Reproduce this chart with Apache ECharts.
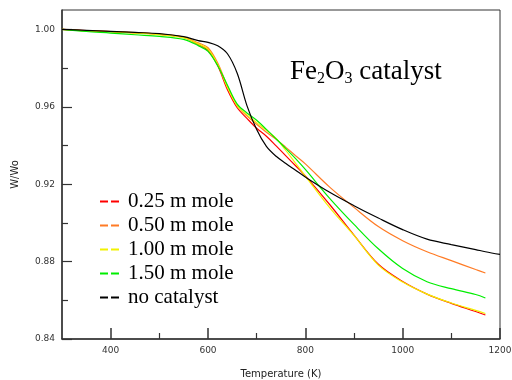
<!DOCTYPE html>
<html>
<head>
<meta charset="utf-8">
<script src="https://cdn.jsdelivr.net/npm/echarts@6/dist/echarts.min.js"></script>
<style>
  html, body { margin: 0; padding: 0; background: #fff; }
  #chart { width: 512px; height: 380px; }
</style>
</head>
<body>
<div id="chart"></div>
<script>
// temperature (K) for the catalyst runs, the blank run goes on to 1200 K
const temperature = [300, 350, 400, 450, 500, 550, 580, 600, 620, 640, 660, 680, 700, 720, 740, 760, 780, 800, 850, 900, 950, 1000, 1050, 1100, 1150, 1170];
const temperatureNoCat = [...temperature, 1200];

const seriesNames = ['0.25 m mole', '0.50 m mole', '1.00 m mole', '1.50 m mole', 'no catalyst'];
const seriesColors = ['#ff0000', '#ff7b25', '#f2f200', '#00ee00', '#000000'];

// W/Wo
const mole025 = [1.0, 0.9993, 0.9988, 0.9982, 0.9974, 0.9958, 0.9922, 0.9892, 0.9812, 0.9688, 0.9595, 0.954, 0.9489, 0.9448, 0.9398, 0.9346, 0.9295, 0.9243, 0.9095, 0.8937, 0.8786, 0.8697, 0.8632, 0.8584, 0.8542, 0.8524];
const mole050 = [1.0, 0.9993, 0.9989, 0.9983, 0.9975, 0.996, 0.993, 0.9905, 0.9826, 0.9706, 0.9606, 0.9553, 0.951, 0.9468, 0.9432, 0.939, 0.9347, 0.9305, 0.9185, 0.908, 0.8981, 0.8908, 0.8851, 0.8805, 0.8759, 0.8741];
const mole100 = [1.0, 0.9992, 0.9987, 0.9981, 0.9973, 0.9957, 0.9925, 0.9898, 0.9818, 0.97, 0.9605, 0.9558, 0.9518, 0.9478, 0.9437, 0.9374, 0.9308, 0.9242, 0.9079, 0.8935, 0.8782, 0.8694, 0.8632, 0.8586, 0.8548, 0.8532];
const mole150 = [1.0, 0.9989, 0.9981, 0.9972, 0.9964, 0.9948, 0.9916, 0.9886, 0.9812, 0.9711, 0.9614, 0.9568, 0.953, 0.9483, 0.9434, 0.9384, 0.9332, 0.9276, 0.9127, 0.8992, 0.8866, 0.8764, 0.8696, 0.866, 0.863, 0.8612];
const noCatalyst = [1.0, 0.9995, 0.999, 0.9984, 0.9978, 0.9962, 0.9942, 0.9933, 0.9915, 0.9874, 0.9773, 0.9606, 0.9482, 0.9395, 0.9344, 0.9307, 0.9272, 0.9237, 0.9158, 0.9089, 0.9025, 0.8965, 0.8916, 0.8888, 0.8862, 0.8851, 0.8837];

// axis ticks
const xTickLabels = [400, 600, 800, 1000, 1200];
const xMinorTicks = [500, 700, 900, 1100];
const yTickLabels = [0.84, 0.88, 0.92, 0.96, 1.0];
const yMinorTicks = [0.86, 0.9, 0.94, 0.98];

const axisColor = '#333';
const labelFont = 'DejaVu Sans';

const toPairs = (xs, ys) => ys.map((v, i) => [xs[i], v]);
const allValues = [mole025, mole050, mole100, mole150, noCatalyst];

const series = allValues.map((vals, i) => ({
  name: seriesNames[i],
  type: 'line',
  data: toPairs(i === 4 ? temperatureNoCat : temperature, vals),
  smooth: 0.35,
  showSymbol: false,
  symbol: 'none',
  color: seriesColors[i],
  lineStyle: { width: 1.2, color: seriesColors[i] },
  z: i === 4 ? 3 : 2,
}));

const chart = echarts.init(document.getElementById('chart'), null, { renderer: 'canvas' });

chart.setOption({
  animation: false,
  backgroundColor: '#fff',
  title: {
    left: 290,
    top: 57,
    padding: 0,
    text: '{a|Fe}{s|2}{a|O}{s|3}{a| catalyst}',
    textStyle: {
      fontWeight: 'normal',
      rich: {
        a: { fontFamily: 'Liberation Serif', fontWeight: 'normal', fontSize: 27, color: '#000', lineHeight: 30 },
        s: { fontFamily: 'Liberation Serif', fontWeight: 'normal', fontSize: 16, color: '#000', lineHeight: 16, verticalAlign: 'bottom' },
      },
    },
  },
  legend: {
    orient: 'vertical',
    left: 100,
    top: 191,
    padding: 0,
    itemGap: 3,
    itemWidth: 19,
    itemHeight: 2,
    icon: 'path://M0,0H8V2H0Z M11,0H19V2H11Z',
    data: seriesNames,
    selectedMode: false,
    textStyle: {
      fontFamily: 'Liberation Serif',
      fontSize: 21,
      lineHeight: 20,
      color: '#000',
      padding: [0, 0, 0, 4],
    },
  },
  grid: {
    left: 62,
    right: 12,
    top: 10,
    bottom: 41,
    show: true,
    borderColor: axisColor,
    borderWidth: 1,
    outerBoundsMode: 'none',
    containLabel: false,
  },
  xAxis: [
    {
      type: 'value',
      position: 'bottom',
      min: 300,
      max: 1200,
      name: 'Temperature (K)',
      nameLocation: 'middle',
      nameGap: 30,
      nameTextStyle: { fontFamily: labelFont, fontSize: 10, color: '#222' },
      axisLine: { show: true, lineStyle: { color: axisColor, width: 1.5 } },
      axisTick: { show: true, inside: true, length: 11, customValues: xTickLabels, lineStyle: { color: axisColor, width: 1.5 } },
      axisLabel: {
        customValues: xTickLabels,
        margin: 7,
        fontFamily: labelFont,
        fontSize: 9,
        color: '#333',
        formatter: (v) => String(v),
      },
      splitLine: { show: false },
    },
    {
      type: 'value',
      position: 'bottom',
      min: 300,
      max: 1200,
      axisLine: { show: false },
      axisTick: { show: true, inside: true, length: 6, customValues: xMinorTicks, lineStyle: { color: axisColor, width: 1.2 } },
      axisLabel: { show: false },
      splitLine: { show: false },
    },
  ],
  yAxis: [
    {
      type: 'value',
      position: 'left',
      min: 0.84,
      max: 1.01,
      name: 'W/Wo',
      nameLocation: 'middle',
      nameGap: 42,
      nameRotate: 90,
      nameTextStyle: { fontFamily: labelFont, fontSize: 10, color: '#222' },
      axisLine: { show: true, lineStyle: { color: axisColor, width: 1.5 } },
      axisTick: { show: true, inside: true, length: 10, customValues: yTickLabels, lineStyle: { color: axisColor, width: 1.2 } },
      axisLabel: {
        customValues: yTickLabels,
        margin: 7,
        fontFamily: labelFont,
        fontSize: 9,
        color: '#333',
        formatter: (v) => v.toFixed(2),
      },
      splitLine: { show: false },
    },
    {
      type: 'value',
      position: 'left',
      min: 0.84,
      max: 1.01,
      axisLine: { show: false },
      axisTick: { show: true, inside: true, length: 6, customValues: yMinorTicks, lineStyle: { color: axisColor, width: 1.2 } },
      axisLabel: { show: false },
      splitLine: { show: false },
    },
  ],
  series,
});
</script>
</body>
</html>
